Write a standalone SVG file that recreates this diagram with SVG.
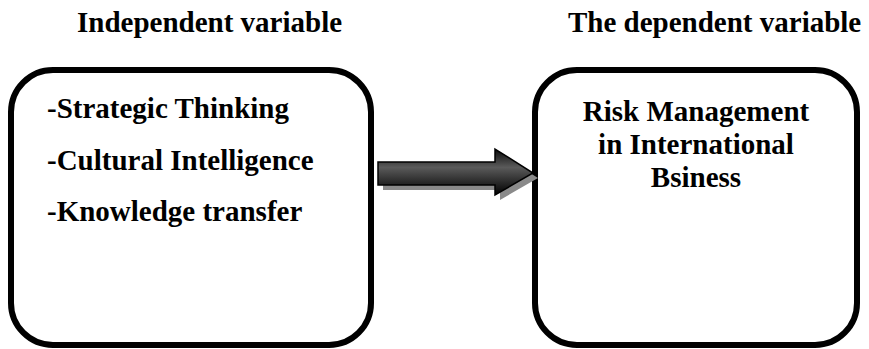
<svg xmlns="http://www.w3.org/2000/svg" width="869" height="349" viewBox="0 0 869 349">
<defs>
<style>
.box{fill:#fff;stroke:#000;stroke-width:6}
.t{font-family:'Liberation Serif','Times New Roman',Times,'DejaVu Serif',serif;font-weight:700;font-size:29px;fill:#000}
</style>
<linearGradient id="g" x1="0" y1="0" x2="0" y2="1">
<stop offset="0" stop-color="#0a0a0a"/>
<stop offset="0.4" stop-color="#5a5a5a"/>
<stop offset="1" stop-color="#000"/>
</linearGradient>
</defs>
<rect width="869" height="349" fill="#fff"/>
<text class="t" x="77" y="32">Independent variable</text>
<text class="t" x="568" y="32">The dependent variable</text>
<g id="independent">
<rect class="box" x="11" y="70" width="360" height="275" rx="42" ry="42"/>
<text class="t" x="47" y="118">-Strategic Thinking</text>
<text class="t" x="47" y="170">-Cultural Intelligence</text>
<text class="t" x="47" y="221">-Knowledge transfer</text>
</g>
<g id="dependent">
<rect class="box" x="535" y="70" width="322" height="275" rx="42" ry="42"/>
<text class="t" x="696" y="121" text-anchor="middle">Risk Management</text>
<text class="t" x="696" y="154" text-anchor="middle">in International</text>
<text class="t" x="696" y="187" text-anchor="middle">Bsiness</text>
</g>
<g id="connectors">
<polygon points="383,167 500,167 500,154 538,178 500,200 500,190 383,190" fill="#8a8a8a"/>
<polygon points="378,162 495,162 495,149 533,173 495,195 495,185 378,185" fill="url(#g)" stroke="#000" stroke-width="1.5"/>
</g>
</svg>
